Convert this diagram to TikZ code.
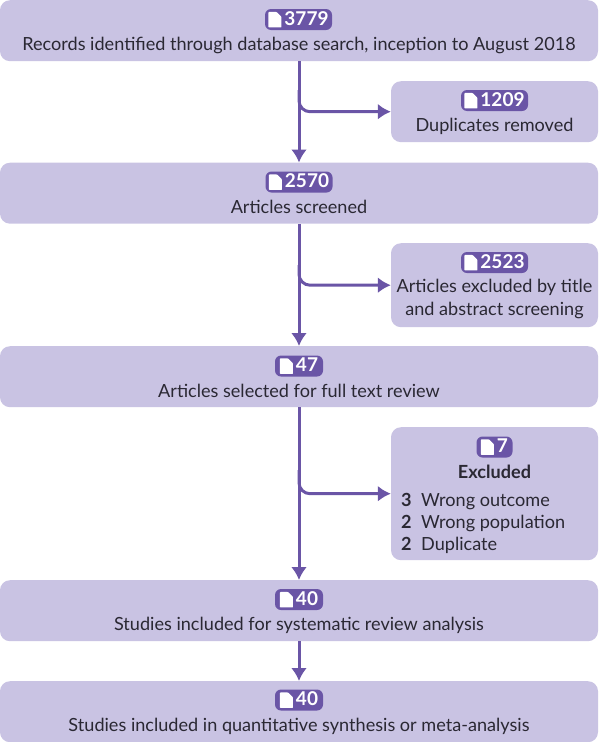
\documentclass[tikz,border=0pt]{standalone}
\usepackage{fontspec}
\setmainfont{Lato}
\usetikzlibrary{arrows.meta}
\definecolor{boxc}{HTML}{C9C3E3}
\definecolor{purp}{HTML}{6A55A6}
\definecolor{txt}{HTML}{2A2833}
\newcommand{\docicon}{\tikz[baseline=0pt,x=1pt,y=1pt]{\fill[white,rounded corners=0.6pt] (0,-2) -- (0,13.5) -- (8,13.5) -- (13,8.5) -- (13,-2) -- cycle;}}
\tikzset{
  x=1pt,y=-1pt,
  box/.style={fill=boxc,rounded corners=10pt,inner sep=0pt,minimum height=#1,anchor=north},
  wide/.style={box=61pt,minimum width=598pt},
  side/.style={box=#1,minimum width=207pt},
  lbl/.style={text=txt,font=\fontsize{18.1}{23}\selectfont,inner sep=0pt,align=center},
  badge/.style={fill=purp,rounded corners=6pt,text=white,font=\fontsize{19}{20}\selectfont\bfseries,inner sep=0pt,minimum height=21pt},
  conn/.style={draw=purp,line width=3pt,-{Latex[length=13pt,width=16pt,sharp]}},
  branch/.style={conn,rounded corners=11pt},
}
\newcommand{\bdg}[4]{\node[badge,minimum width=#4pt] (#1) at (#2) {\docicon\hspace{3pt}#3};}
\begin{document}
\begin{tikzpicture}
\useasboundingbox (0,0) rectangle (598,742);
% main boxes
\node[wide] (b1) at (299,0) {};
\node[wide] (b2) at (299,162.5) {};
\node[wide] (b3) at (299,346) {};
\node[wide] (b4) at (299,580) {};
\node[wide] (b5) at (299,681) {};
% side boxes
\node[side=61pt] (s1) at (494.5,81) {};
\node[side=84pt] (s2) at (494.5,243) {};
\node[side=133pt] (s3) at (494.5,427) {};
% connectors
\draw[conn] (b1.south) -- (b2.north);
\draw[conn] (b2.south) -- (b3.north);
\draw[conn] (b3.south) -- (b4.north);
\draw[conn] (b4.south) -- (b5.north);
\coordinate (j1) at (299,90);
\coordinate (j2) at (299,265);
\coordinate (j3) at (299,470);
\draw[branch] (j1) |- (s1.west);
\draw[branch] (j2) |- (s2.west);
\draw[branch] (j3) |- (s3.west);
% badges
\bdg{n1}{298.5,19.5}{3779}{67}
\bdg{n2}{299,182}{2570}{67}
\bdg{n3}{299,366}{47}{48}
\bdg{n4}{299,599.5}{40}{48}
\bdg{n5}{299,700}{40}{48}
\bdg{n6}{494.5,100.5}{1209}{67}
\bdg{n7}{494.5,262.5}{2523}{67}
\bdg{n8}{494.5,447}{7}{36}
% labels
\node[lbl] (t1) at (299,45) {Records identified through database search, inception to August 2018};
\node[lbl] (t2) at (299,207) {Articles screened};
\node[lbl] (t3) at (299,391) {Articles selected for full text review};
\node[lbl] (t4) at (299,625) {Studies included for systematic review analysis};
\node[lbl] (t5) at (299,726) {Studies included in quantitative synthesis or meta-analysis};
\node[lbl] (t6) at (494.5,126) {Duplicates removed};
\node[lbl] (t7) at (494.5,298.5) {Articles excluded by title\\and abstract screening};
\node[lbl,font=\fontsize{18.1}{23}\selectfont\bfseries] (t8) at (494.5,471.5) {Excluded};
\node[lbl,anchor=base west] (c1) at (401,506) {\textbf{3}};
\node[lbl,anchor=base west] (c2) at (401,528) {\textbf{2}};
\node[lbl,anchor=base west] (c3) at (401,550) {\textbf{2}};
\node[lbl,anchor=base west] (e1) at (421,506) {Wrong outcome};
\node[lbl,anchor=base west] (e2) at (421,528) {Wrong population};
\node[lbl,anchor=base west] (e3) at (421,550) {Duplicate};
\end{tikzpicture}
\end{document}
